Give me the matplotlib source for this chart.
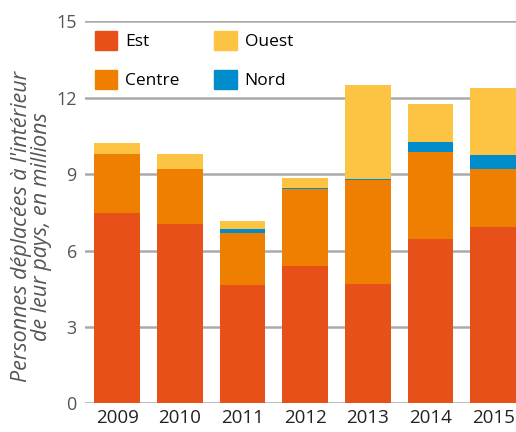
import matplotlib.pyplot as plt
from matplotlib.patches import Patch
import numpy as np

years = ["2009", "2010", "2011", "2012", "2013", "2014", "2015"]
est = [7.47, 7.04, 4.64, 5.39, 4.68, 6.45, 6.93]
centre = [2.32, 2.16, 2.05, 3.01, 4.09, 3.42, 2.27]
nord = [0.0, 0.0, 0.16, 0.06, 0.05, 0.39, 0.55]
ouest = [0.43, 0.59, 0.31, 0.39, 3.68, 1.49, 2.63]

colors = {"Est": "#E8501A", "Centre": "#EE7F00", "Nord": "#008BCA", "Ouest": "#FCC442"}

plt.rcParams["font.family"] = ["Open Sans", "DejaVu Sans"]

fig = plt.figure(figsize=(5.16, 4.32), dpi=100)
ax = fig.add_axes([0.165, 0.066, 0.835, 0.885])

x = np.arange(len(years))
w = 0.73
bottom = np.zeros(len(years))
for name, vals in [("Est", est), ("Centre", centre), ("Nord", nord), ("Ouest", ouest)]:
    ax.bar(x, vals, w, bottom=bottom, color=colors[name], zorder=3)
    bottom += np.array(vals)

ax.set_xlim(-0.51, 6.365)
ax.set_ylim(0, 15)
ax.set_yticks([0, 3, 6, 9, 12, 15])
ax.set_xticks(x)
ax.set_xticklabels(years)
ax.grid(axis="y", color="#aaaaaa", linewidth=1.8, zorder=0)
for s in ax.spines.values():
    s.set_visible(False)
ax.tick_params(axis="y", length=0, labelsize=13, labelcolor="#555555", pad=6)
ax.tick_params(axis="x", length=0, labelsize=13.5, labelcolor="#222222", pad=4)

ax.set_ylabel("Personnes déplacées à l'intérieur\nde leur pays, en millions",
              fontsize=15.5, style="italic", color="#555555", linespacing=0.95)
ax.yaxis.set_label_coords(-0.077, 0.463)

handles = [Patch(color=colors["Est"], label="Est"), Patch(color=colors["Centre"], label="Centre"),
           Patch(color=colors["Ouest"], label="Ouest"), Patch(color=colors["Nord"], label="Nord")]
ax.legend(handles=handles, ncol=2, frameon=False, loc="upper left", bbox_to_anchor=(0.0, 1.0),
          fontsize=12.5, handlelength=1.3, handleheight=1.3, columnspacing=2.0, labelspacing=1.15,
          handletextpad=0.45, borderaxespad=0.2, borderpad=0.35)

fig.savefig("out.png", dpi=100)
